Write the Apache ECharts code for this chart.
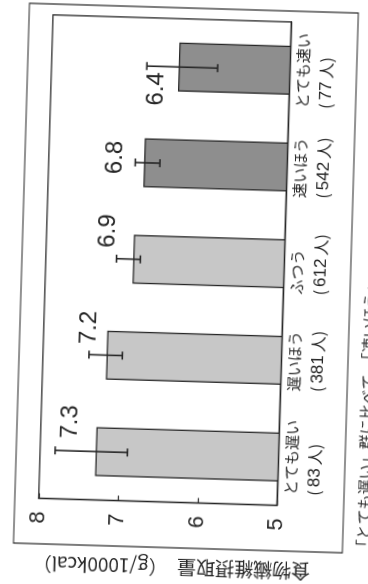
<!DOCTYPE html>
<html>
<head>
<meta charset="utf-8">
<script src="https://cdn.jsdelivr.net/npm/echarts@6/dist/echarts.min.js"></script>
<style>
  html, body { margin: 0; padding: 0; background: #fff; overflow: hidden; }
  #page { position: absolute; left: 0; top: 0; width: 368px; height: 584px; overflow: hidden; background: #fff; }
  /* the scan is the chart turned a quarter turn anticlockwise, slightly skewed */
  #chart {
    position: absolute; left: -136px; top: 82px; width: 640px; height: 420px;
    transform: rotate(-88.3deg); transform-origin: 50% 50%; background: #fff;
  }
</style>
</head>
<body>
<div id="page"><div id="chart"></div></div>
<script>
const categories = ["とても遅い", "遅いほう", "ふつう", "速いほう", "とても速い"];
const counts = [83, 381, 612, 542, 77];
const means = [7.3, 7.2, 6.9, 6.8, 6.4];
const errLow = [6.90, 7.00, 6.81, 6.60, 5.91];
const errHigh = [7.81, 7.42, 7.11, 6.91, 6.80];
const valueTicks = [5, 6, 7, 8];

// styling / layout (not data)
const barFills = ["#c7c7c7", "#c7c7c7", "#c7c7c7", "#8e8e8e", "#8e8e8e"];
const labelNudge = [[29, -26], [27, -18], [27.5, -25.5], [4.5, -28.5], [-22.5, -21.5]];
const INK = "#262626";
const LATIN = "'Liberation Sans', Arial, sans-serif";
const CJK = "'Noto Sans CJK JP', sans-serif";

const chart = echarts.init(document.getElementById("chart"));

const tok = (size, family, pad) => ({
  align: "left", fontFamily: family, fontSize: size, lineHeight: 24, color: INK,
  padding: pad || 0
});

chart.setOption({
  animation: false,
  backgroundColor: "#fff",
  grid: {
    left: 109.5, right: 46.9, top: 70.8, bottom: 110.7,
    show: true, borderColor: INK, borderWidth: 1.3,
    outerBoundsMode: "none"
  },
  xAxis: {
    type: "category",
    data: categories,
    axisLine: { show: true, lineStyle: { color: INK, width: 1.3 } },
    axisTick: { show: false },
    axisLabel: {
      interval: 0,
      margin: 1,
      color: INK,
      fontFamily: CJK,
      fontSize: 15,
      lineHeight: 24,
      formatter: (v, i) => `{a|${v}}\n{p|(}{n|${counts[i]}}{p|人)}`,
      rich: {
        a: tok(15, CJK),
        p: tok(16, CJK),
        n: tok(17, LATIN, [0, 3, 0, 3])
      }
    }
  },
  yAxis: {
    type: "value",
    min: valueTicks[0],
    max: valueTicks[valueTicks.length - 1],
    interval: 1,
    splitLine: { show: false },
    axisLine: { show: true, lineStyle: { color: INK, width: 1.3 } },
    axisTick: { show: true, inside: true, length: 5, lineStyle: { color: INK, width: 1.2 } },
    axisLabel: { color: INK, fontFamily: LATIN, fontSize: 22, margin: 13 }
  },
  graphic: [
    {
      type: "rect",
      shape: { x: 64, y: 47, width: 540, height: 329 },
      style: { fill: "none", stroke: INK, lineWidth: 1.2 }
    },
    {
      type: "text",
      x: 45, y: 205.5,
      rotation: Math.PI / 2,
      style: {
        text: "食物繊維摂取量　（g/1000kcal）",
        fill: INK, fontFamily: CJK, fontSize: 19,
        align: "center", verticalAlign: "middle"
      }
    },
    {
      type: "text",
      x: 63, y: 396.5,
      style: {
        text: "「とても遅い」群に比べて、「速いほう」",
        fill: INK, fontFamily: CJK, fontSize: 15,
        align: "left", verticalAlign: "middle"
      }
    }
  ],
  series: [
    {
      type: "bar",
      barWidth: 49,
      data: means.map((m, i) => ({
        value: m,
        itemStyle: { color: barFills[i], borderColor: INK, borderWidth: 1.3 }
      })),
      z: 2
    },
    {
      type: "custom",
      z: 5,
      data: categories.map((_, i) => [i, errLow[i], errHigh[i], means[i]]),
      renderItem(params, api) {
        const i = api.value(0);
        const lo = api.coord([i, api.value(1)]);
        const hi = api.coord([i, api.value(2)]);
        const top = api.coord([i, api.value(3)]);
        const cap = 4;
        const ls = { stroke: INK, lineWidth: 1.6 };
        const nudge = labelNudge[params.dataIndex];
        return {
          type: "group",
          children: [
            { type: "line", shape: { x1: hi[0], y1: hi[1], x2: lo[0], y2: lo[1] }, style: ls },
            { type: "line", shape: { x1: hi[0] - cap, y1: hi[1], x2: hi[0] + cap, y2: hi[1] }, style: ls },
            { type: "line", shape: { x1: lo[0] - cap, y1: lo[1], x2: lo[0] + cap, y2: lo[1] }, style: ls },
            {
              type: "text",
              x: top[0] + nudge[0],
              y: top[1] + nudge[1],
              style: {
                text: api.value(3).toFixed(1),
                fill: INK, fontFamily: LATIN, fontSize: 24,
                align: "center", verticalAlign: "middle"
              }
            }
          ]
        };
      }
    }
  ]
});
</script>
</body>
</html>
